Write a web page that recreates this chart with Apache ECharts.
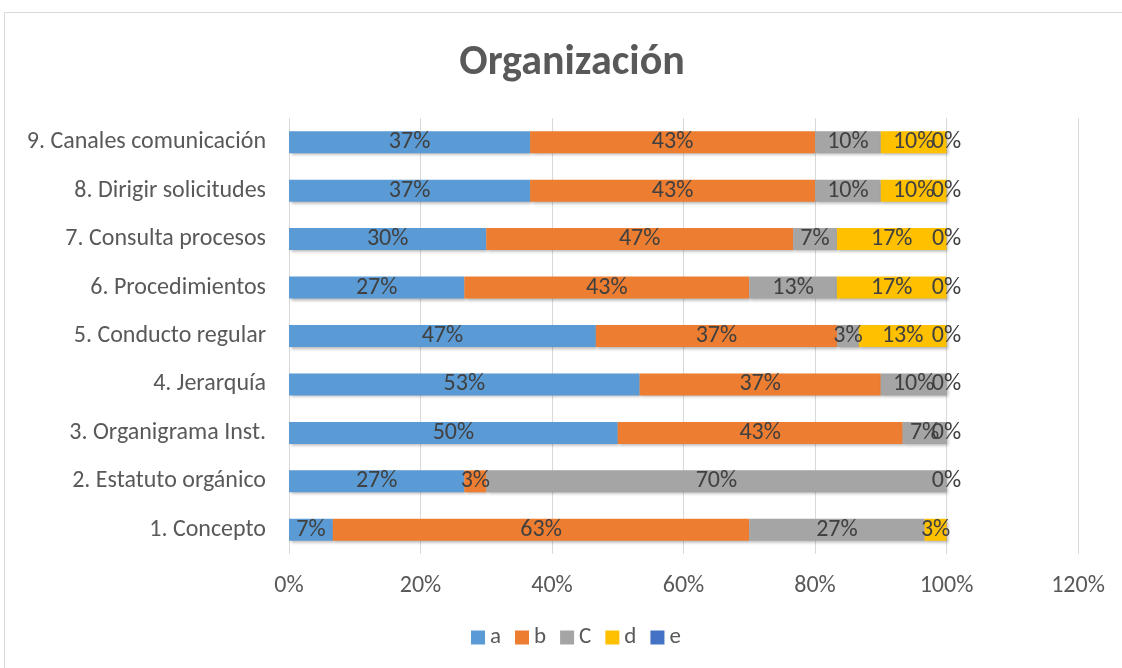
<!DOCTYPE html>
<html>
<head>
<meta charset="utf-8">
<script src="https://cdn.jsdelivr.net/npm/echarts@6/dist/echarts.min.js"></script>
<style>
  html, body { margin: 0; padding: 0; background: #ffffff; }
  #chart { width: 1122px; height: 668px; }
</style>
</head>
<body>
<div id="chart"></div>
<script>
// categories, bottom to top
var categories = ['1. Concepto', '2. Estatuto orgánico', '3. Organigrama Inst.', '4. Jerarquía',
  '5. Conducto regular', '6. Procedimientos', '7. Consulta procesos', '8. Dirigir solicitudes',
  '9. Canales comunicación'];
var seriesNames = ['a', 'b', 'C', 'd', 'e'];
var valuesA = [6.67, 26.67, 50, 53.33, 46.67, 26.67, 30, 36.67, 36.67];
var valuesB = [63.33, 3.33, 43.33, 36.67, 36.67, 43.33, 46.67, 43.33, 43.33];
var valuesC = [26.67, 70, 6.67, 10, 3.33, 13.33, 6.67, 10, 10];
var valuesD = [3.33, 0, 0, 0, 13.33, 16.67, 16.67, 10, 10];
var valuesE = [null, 0, 0, 0, 0, 0, 0, 0, 0];
var xTicks = [0, 20, 40, 60, 80, 100, 120];

var colors = ['#5B9BD5', '#ED7D31', '#A5A5A5', '#FFC000', '#4472C4'];
var allValues = [valuesA, valuesB, valuesC, valuesD, valuesE];

var chart = echarts.init(document.getElementById('chart'));
var font = 'Carlito, "Open Sans", "Liberation Sans", sans-serif';

var series = [];
for (var i = 0; i < seriesNames.length; i++) {
  var last = i === seriesNames.length - 1;
  series.push({
    name: seriesNames[i],
    type: 'bar',
    stack: 'total',
    barWidth: 22,
    data: allValues[i],
    itemStyle: {
      color: colors[i],
      shadowBlur: 3,
      shadowOffsetX: 1.5,
      shadowOffsetY: 2,
      shadowColor: 'rgba(0,0,0,0.3)'
    },
    label: {
      show: true,
      position: 'inside',
      color: '#404040',
      fontFamily: font,
      fontSize: 24,
      formatter: (function (isLast) {
        return function (p) {
          if (p.value == null) return '';
          // zero segments sit on top of each other, only the last one is written
          if (p.value === 0 && !isLast) return '';
          return Math.round(p.value) + '%';
        };
      })(last)
    }
  });
}

var option = {
  backgroundColor: '#ffffff',
  animation: false,
  title: {
    text: 'Organización',
    left: 567,
    textAlign: 'center',
    top: 37,
    textStyle: { fontFamily: font, fontSize: 42, fontWeight: 'bold', color: '#595959' }
  },
  legend: {
    data: seriesNames,
    bottom: 14,
    left: 466,
    itemWidth: 14,
    itemHeight: 14,
    itemGap: 14,
    icon: 'rect',
    textStyle: { fontFamily: font, fontSize: 23, color: '#595959' }
  },
  graphic: [{
    type: 'rect',
    shape: { x: 4.5, y: 12.5, width: 1130, height: 700 },
    style: { fill: 'none', stroke: '#d9d9d9', lineWidth: 1 },
    silent: true
  }],
  grid: { left: 289, right: 44, top: 118, bottom: 114 },
  xAxis: {
    type: 'value',
    min: 0,
    max: 120,
    interval: 20,
    axisLine: { show: false },
    axisTick: { show: false },
    splitLine: { lineStyle: { color: '#d9d9d9' } },
    axisLabel: {
      margin: 20,
      fontFamily: font,
      fontSize: 24,
      color: '#595959',
      formatter: function (v) { return xTicks.indexOf(v) >= 0 ? v + '%' : ''; }
    }
  },
  yAxis: {
    type: 'category',
    data: categories,
    axisLine: { show: false },
    axisTick: { show: false },
    axisLabel: { margin: 23, fontFamily: font, fontSize: 24, color: '#595959' }
  },
  series: series
};

chart.setOption(option);
</script>
</body>
</html>
